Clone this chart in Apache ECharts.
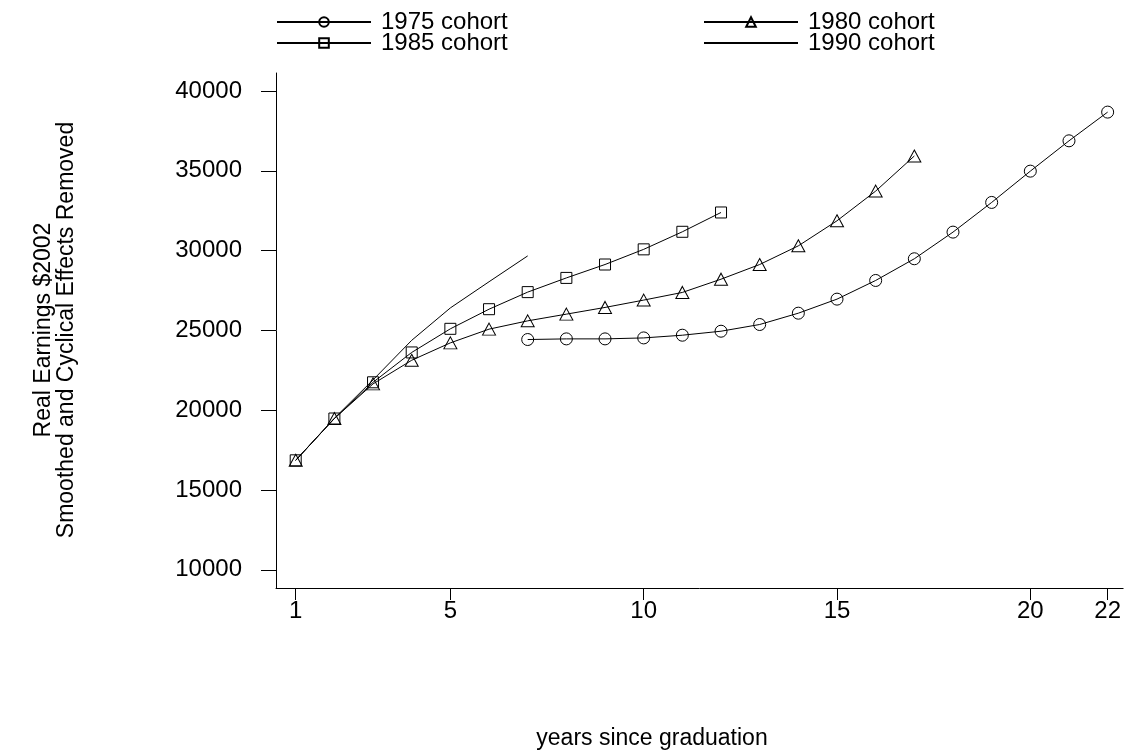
<!DOCTYPE html>
<html>
<head>
<meta charset="utf-8">
<script src="https://cdn.jsdelivr.net/npm/echarts@6/dist/echarts.min.js"></script>
<style>
  html, body { margin: 0; padding: 0; background: #fff; }
  #main { width: 1124px; height: 750px; }
</style>
</head>
<body>
<div id="main"></div>
<script>
// 每个 cohort 的年份和收入
var years1975 = [7, 8, 9, 10, 11, 12, 13, 14, 15, 16, 17, 18, 19, 20, 21, 22];
var earn1975 = [24430, 24470, 24470, 24530, 24700, 24950, 25370, 26080, 26960, 28130, 29490, 31160, 33020, 34980, 36880, 38680];
var years1980 = [1, 2, 3, 4, 5, 6, 7, 8, 9, 10, 11, 12, 13, 14, 15, 16, 17];
var earn1980 = [16860, 19480, 21650, 23130, 24220, 25080, 25600, 26020, 26440, 26900, 27380, 28210, 29130, 30300, 31870, 33730, 35930];
var years1985 = [1, 2, 3, 4, 5, 6, 7, 8, 9, 10, 11, 12];
var earn1985 = [16860, 19480, 21750, 23620, 25100, 26330, 27400, 28290, 29130, 30080, 31180, 32390];
var years1990 = [1, 2, 3, 4, 5, 6, 7];
var earn1990 = [16860, 19500, 21900, 24380, 26410, 28050, 29670];

var xTicks = [1, 5, 10, 15, 20, 22];
var yTicks = [10000, 15000, 20000, 25000, 30000, 35000, 40000];

var FONT = 'Liberation Sans, Arial, sans-serif';

function pairs(xs, ys) {
    var out = [];
    for (var i = 0; i < xs.length; i++) {
        out.push([xs[i], ys[i]]);
    }
    return out;
}

function makeSeries(name, xs, ys, symbol, size) {
    var noMark = symbol === 'none';
    return {
        name: name,
        type: 'line',
        data: pairs(xs, ys),
        symbol: noMark ? 'circle' : symbol,
        symbolSize: size,
        showSymbol: !noMark,
        lineStyle: { color: '#000', width: 1 },
        // 1990 没有标记，图例里也不画
        itemStyle: { color: 'rgba(0,0,0,0)', borderColor: noMark ? 'rgba(0,0,0,0)' : '#000', borderWidth: noMark ? 0 : 1 },
        emphasis: { disabled: true },
        animation: false
    };
}

var myChart = echarts.init(document.getElementById('main'));

var legendCommon = {
    orient: 'vertical',
    top: 10,
    padding: 0,
    itemWidth: 94,
    itemHeight: 12,
    itemGap: -3,
    selectedMode: false,
    textStyle: { fontFamily: FONT, fontSize: 24, color: '#000', padding: [0, 0, 0, 5] }
};

var option = {
    backgroundColor: '#fff',
    animation: false,
    legend: [
        Object.assign({ left: 276, data: ['1975 cohort', '1985 cohort'] }, legendCommon),
        Object.assign({ left: 703, data: ['1980 cohort', '1990 cohort'] }, legendCommon)
    ],
    grid: { left: 276, right: 0, top: 73, bottom: 162 },
    xAxis: {
        type: 'value',
        min: 0.49,
        max: 22.4,
        axisLine: { onZero: false, lineStyle: { color: '#000', width: 1 } },
        axisTick: { customValues: xTicks, length: 12, lineStyle: { color: '#000' } },
        axisLabel: { customValues: xTicks, margin: 11, fontFamily: FONT, fontSize: 24, color: '#000' },
        splitLine: { show: false }
    },
    yAxis: {
        type: 'value',
        min: 8860,
        max: 41130,
        axisLine: { show: true, onZero: false, lineStyle: { color: '#000', width: 1 } },
        axisTick: { show: true, customValues: yTicks, length: 15, lineStyle: { color: '#000' } },
        axisLabel: {
            customValues: yTicks, margin: 34, fontFamily: FONT, fontSize: 24, color: '#000',
            formatter: function (v) { return String(v); }
        },
        splitLine: { show: false }
    },
    graphic: [
        {
            type: 'text', x: 44, y: 330, rotation: Math.PI / 2,
            style: { text: 'Real Earnings $2002', font: '23px ' + FONT, fill: '#000', textAlign: 'center', textVerticalAlign: 'middle' }
        },
        {
            type: 'text', x: 67, y: 330, rotation: Math.PI / 2,
            style: { text: 'Smoothed and Cyclical Effects Removed', font: '23px ' + FONT, fill: '#000', textAlign: 'center', textVerticalAlign: 'middle' }
        },
        {
            type: 'text', x: 652, y: 739,
            style: { text: 'years since graduation', font: '23px ' + FONT, fill: '#000', textAlign: 'center', textVerticalAlign: 'middle' }
        }
    ],
    series: [
        makeSeries('1975 cohort', years1975, earn1975, 'circle', 12),
        makeSeries('1980 cohort', years1980, earn1980, 'triangle', [13, 12]),
        makeSeries('1985 cohort', years1985, earn1985, 'rect', 11),
        makeSeries('1990 cohort', years1990, earn1990, 'none', 0)
    ]
};

myChart.setOption(option);
</script>
</body>
</html>
